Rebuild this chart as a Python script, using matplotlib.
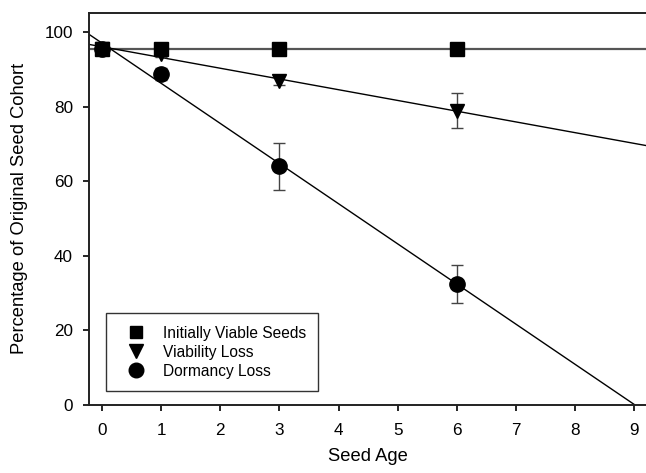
import numpy as np
import matplotlib
matplotlib.use("Agg")
import matplotlib.pyplot as plt
from matplotlib.lines import Line2D

plt.rcParams['font.family'] = ['Liberation Sans', 'DejaVu Sans']

seed_age = [0, 1, 3, 6]
initially_viable = [95.5, 95.5, 95.5, 95.5]
viability_loss = [95.5, 94.3, 87.0, 78.9]
viability_err = [0.8, 1.0, 1.2, 4.7]
dormancy_loss = [95.5, 88.7, 64.0, 32.4]
dormancy_err = [1.0, 1.6, 6.3, 5.0]

x_ticks = [0, 1, 2, 3, 4, 5, 6, 7, 8, 9]
y_ticks = [0, 20, 40, 60, 80, 100]
legend_labels = ['Initially Viable Seeds', 'Viability Loss', 'Dormancy Loss']

fig = plt.figure(figsize=(6.46, 4.73), dpi=100)
ax = fig.add_axes([0.1378, 0.1444, 0.8622, 0.8281])

xmin, xmax = -0.22, 9.2
xx = np.array([xmin, xmax])

# fitted lines
ax.plot(xx, [np.mean(initially_viable)] * 2, color='#555555', lw=1.6, zorder=1)
pv = np.polyfit(seed_age, viability_loss, 1)
ax.plot(xx, np.polyval(pv, xx), color='black', lw=1.0, zorder=1)
pd_ = np.polyfit(seed_age, dormancy_loss, 1)
ax.plot(xx, np.polyval(pd_, xx), color='black', lw=1.0, zorder=1)

ekw = dict(ecolor='#444444', elinewidth=1.0, capsize=4, capthick=1.0, ls='none')
ax.errorbar(seed_age, dormancy_loss, yerr=dormancy_err, fmt='o', color='black',
            markersize=11, zorder=3, **ekw)
ax.errorbar(seed_age, viability_loss, yerr=viability_err, fmt='v', color='black',
            markersize=10, zorder=4, **ekw)
ax.plot(seed_age, initially_viable, 's', color='black', markersize=9.5,
        ls='none', zorder=5)

ax.set_xlim(xmin, xmax)
ax.set_ylim(0, 105.2)
ax.set_xticks(x_ticks)
ax.set_yticks(y_ticks)
ax.tick_params(direction='out', length=4.5, width=1.2, labelsize=12.3, colors='black')
ax.tick_params(axis='x', pad=8.5)
ax.tick_params(axis='y', pad=7)
for s in ['left', 'bottom', 'top']:
    ax.spines[s].set_linewidth(1.4)
    ax.spines[s].set_color('#222222')
ax.spines['right'].set_visible(False)

ax.set_xlabel('Seed Age', fontsize=13.2)
ax.xaxis.set_label_coords(0.5, -0.1335)
ax.xaxis.label.set_va('center')
ax.set_ylabel('Percentage of Original Seed Cohort', fontsize=13.2)
ax.yaxis.set_label_coords(-0.124, 0.5)
ax.yaxis.label.set_va('center')

handles = [Line2D([], [], marker='s', color='black', ls='none', markersize=9),
           Line2D([], [], marker='v', color='black', ls='none', markersize=9.5),
           Line2D([], [], marker='o', color='black', ls='none', markersize=10.5)]
leg = ax.legend(handles, legend_labels,
                loc='lower left', bbox_to_anchor=(0.0305, 0.035), fontsize=11.2,
                fancybox=False, edgecolor='#333333', framealpha=1, borderpad=0.8,
                labelspacing=0.25, handletextpad=0.65, handlelength=2.2, borderaxespad=0)
leg.get_frame().set_linewidth(1.0)

fig.savefig('out.png', dpi=100)
